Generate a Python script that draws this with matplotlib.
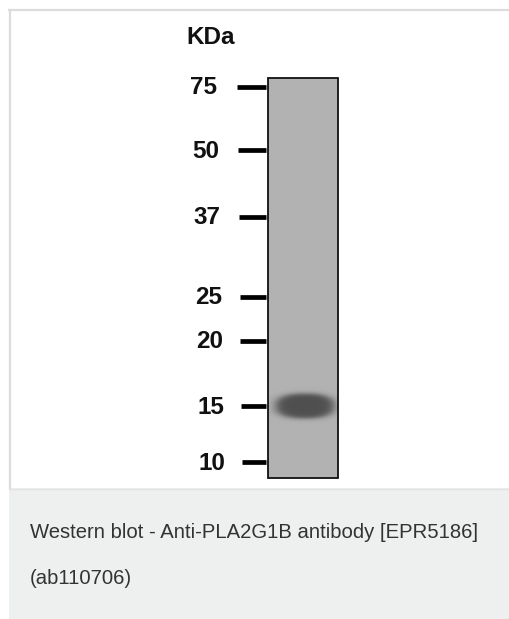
import numpy as np
import matplotlib.pyplot as plt
from matplotlib.patches import Rectangle

plt.rcParams['font.family'] = ['Liberation Sans', 'DejaVu Sans']

# marker ladder (kDa) and where each one ran on the blot (px from top)
marker_kda = ['75', '50', '37', '25', '20', '15', '10']
marker_migration = [87, 150, 217, 297, 341, 406, 462]

# the single band seen in the lane
band_kda = 15
band_migration = 406

caption_lines = ['Western blot - Anti-PLA2G1B antibody [EPR5186]', '(ab110706)']

W, H = 510, 619
fig = plt.figure(figsize=(W / 100, H / 100), dpi=100)
fig.patch.set_facecolor('white')
ax = fig.add_axes([0, 0, 1, 1])
ax.set_xlim(0, W)
ax.set_ylim(H, 0)
ax.axis('off')

# frame and caption area
ax.add_patch(Rectangle((9, 488), W - 9, H - 488, facecolor='#eeefef', edgecolor='none'))
ax.plot([9, W], [10, 10], color='#dcdcdc', lw=1.6)
ax.plot([10, 10], [10, 488], color='#dcdcdc', lw=1.6)
ax.plot([9, W], [488.5, 488.5], color='#e2e2e2', lw=1.0)

# lane image with blurred band
lane_left, lane_right, lane_top, lane_bot = 268, 338, 78, 478
ny, nx = lane_bot - lane_top, lane_right - lane_left
yy, xx = np.mgrid[lane_top:lane_bot, lane_left:lane_right] + 0.5
cx = 305
r = (np.abs((xx - cx) / 30.5) ** 2.4 + np.abs((yy - band_migration) / 13) ** 2.4) ** (1 / 2.4)
band = 1 / (1 + np.exp((r - 0.95) / 0.1))
lane = 0.70 - 0.39 * band
ax.imshow(lane, cmap='gray', vmin=0, vmax=1, extent=(lane_left, lane_right, lane_bot, lane_top),
          interpolation='bilinear', aspect='auto', zorder=2)
ax.add_patch(Rectangle((lane_left, lane_top), nx, ny, facecolor='none', edgecolor='#111111', lw=1.3, zorder=3))

# ladder ticks and labels (the scan is slightly skewed, labels drift right going down)
skew = 0.022
for lab, y in zip(marker_kda, marker_migration):
    dx = skew * (y - marker_migration[0])
    ax.plot([237 + dx * 0.6, 266], [y, y], color='black', lw=3.4, solid_capstyle='butt', zorder=3)
    ax.text(217.5 + dx, y + 1, lab, ha='right', va='center', fontsize=17.5, fontweight='bold', color='#111111')
ax.text(186, 37, 'KDa', ha='left', va='center', fontsize=17.5, fontweight='bold', color='#111111')

# caption
ax.text(30, 533, caption_lines[0], ha='left', va='center', fontsize=14.6, color='#333333')
ax.text(30, 578, caption_lines[1], ha='left', va='center', fontsize=14.6, color='#333333')

fig.savefig('out.png', dpi=100, facecolor='white')
